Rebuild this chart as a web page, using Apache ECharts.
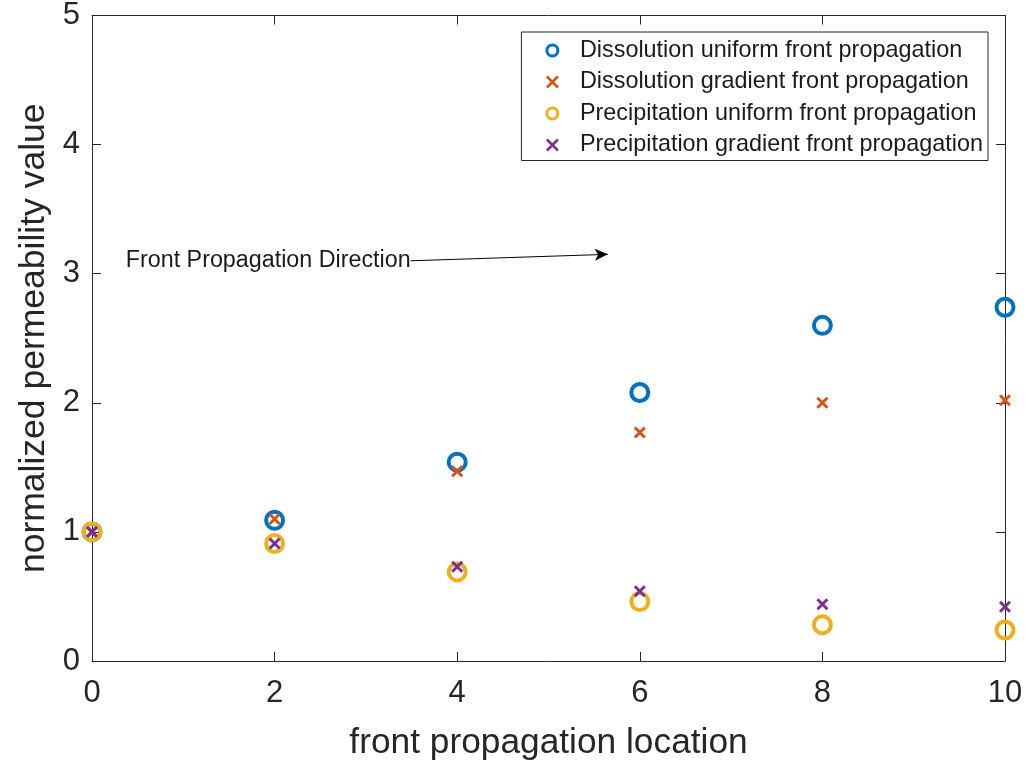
<!DOCTYPE html>
<html>
<head>
<meta charset="utf-8">
<script src="https://cdn.jsdelivr.net/npm/echarts@6/dist/echarts.min.js"></script>
<style>
  html, body { margin: 0; padding: 0; background: #fff; }
  #chart { width: 1027px; height: 766px; }
</style>
</head>
<body>
<div id="chart"></div>
<script>
// Sample positions along the front
const locations = [0, 2, 4, 6, 8, 10];

// Normalized permeability per case
const dissolutionUniform = [1.0, 1.09, 1.54, 2.08, 2.60, 2.74];
const dissolutionGradient = [1.0, 1.10, 1.47, 1.77, 2.00, 2.02];
const precipitationUniform = [1.0, 0.91, 0.69, 0.46, 0.28, 0.24];
const precipitationGradient = [1.0, 0.91, 0.73, 0.54, 0.44, 0.42];

const seriesNames = [
  'Dissolution uniform front propagation',
  'Dissolution gradient front propagation',
  'Precipitation uniform front propagation',
  'Precipitation gradient front propagation'
];

const xTicks = [0, 2, 4, 6, 8, 10];
const yTicks = [0, 1, 2, 3, 4, 5];

// Annotation arrow: text anchor and arrow end, in data units
const arrowStart = [3.49, 3.10];
const arrowEnd = [5.65, 3.15];
const arrowText = 'Front Propagation Direction';

const FONT = 'Liberation Sans, Arial, Helvetica, sans-serif';
const AXIS_COLOR = '#262626';
const CROSS = 'path://M0,0L10,10M10,0L0,10';

function pairs(values) {
  return locations.map((x, i) => [x, values[i]]);
}

function circleSeries(name, values, color) {
  return {
    name, type: 'scatter', data: pairs(values),
    symbol: 'circle', symbolSize: 17,
    itemStyle: { color: 'rgba(255,255,255,0)', borderColor: color, borderWidth: 4, opacity: 1 },
    emphasis: { disabled: true }
  };
}

function crossSeries(name, values, color) {
  return {
    name, type: 'scatter', data: pairs(values),
    symbol: CROSS, symbolSize: 10,
    itemStyle: { color: 'none', borderColor: color, borderWidth: 3, opacity: 1 },
    emphasis: { disabled: true }
  };
}

const sideAxis = (extra) => Object.assign({
  type: 'value', min: 0,
  axisLine: { show: true, onZero: false, lineStyle: { color: AXIS_COLOR, width: 1 } },
  axisTick: { show: true, inside: true, length: 9, lineStyle: { color: AXIS_COLOR } },
  splitLine: { show: false }
}, extra);

const chart = echarts.init(document.getElementById('chart'), null, { renderer: 'canvas' });

const series = [
  circleSeries(seriesNames[0], dissolutionUniform, '#0072BD'),
  crossSeries(seriesNames[1], dissolutionGradient, '#D95319'),
  circleSeries(seriesNames[2], precipitationUniform, '#EDB120'),
  crossSeries(seriesNames[3], precipitationGradient, '#7E2F8E')
];

// Direction arrow with its caption
series.push({
  type: 'line', data: [], silent: true,
  markLine: {
    silent: true,
    symbol: ['none', 'arrow'], symbolSize: [9, 13],
    lineStyle: { color: '#000', width: 1, type: 'solid' },
    label: {
      show: true, position: 'start', formatter: arrowText,
      fontFamily: FONT, fontSize: 23.3, color: '#1a1a1a', distance: 0
    },
    data: [[{ coord: arrowStart }, { coord: arrowEnd }]]
  }
});

chart.setOption({
  animation: false,
  backgroundColor: '#fff',
  grid: { left: 92, right: 22, top: 15, bottom: 103, containLabel: false },
  legend: {
    orient: 'vertical', right: 39, top: 32,
    padding: [7, 5, 4, 23],
    itemGap: 8.5, itemWidth: 11, itemHeight: 11,
    backgroundColor: '#fff', borderColor: AXIS_COLOR, borderWidth: 1,
    textStyle: { fontFamily: FONT, fontSize: 23.4, color: '#1a1a1a', padding: [0, 0, 0, 17] },
    data: seriesNames.map((n, i) => ({
      name: n,
      itemStyle: i % 2 === 0 ? { borderWidth: 3 } : { borderWidth: 2.5 }
    }))
  },
  xAxis: [
    sideAxis({
      max: 10, interval: 2, position: 'bottom',
      name: 'front propagation location', nameLocation: 'middle', nameGap: 65,
      nameTextStyle: { fontFamily: FONT, fontSize: 35.3, color: AXIS_COLOR },
      axisLabel: {
        fontFamily: FONT, fontSize: 31, color: AXIS_COLOR, margin: 17,
        formatter: (v) => xTicks.includes(v) ? String(v) : ''
      }
    }),
    sideAxis({ max: 10, interval: 2, position: 'top', axisLabel: { show: false } })
  ],
  yAxis: [
    sideAxis({
      max: 5, interval: 1, position: 'left',
      name: 'normalized permeability value', nameLocation: 'middle', nameGap: 40,
      nameTextStyle: { fontFamily: FONT, fontSize: 35.5, color: AXIS_COLOR },
      axisLabel: {
        fontFamily: FONT, fontSize: 31, color: AXIS_COLOR, margin: 12,
        formatter: (v) => yTicks.includes(v) ? String(v) : ''
      }
    }),
    sideAxis({ max: 5, interval: 1, position: 'right', axisLabel: { show: false } })
  ],
  series
});
</script>
</body>
</html>
